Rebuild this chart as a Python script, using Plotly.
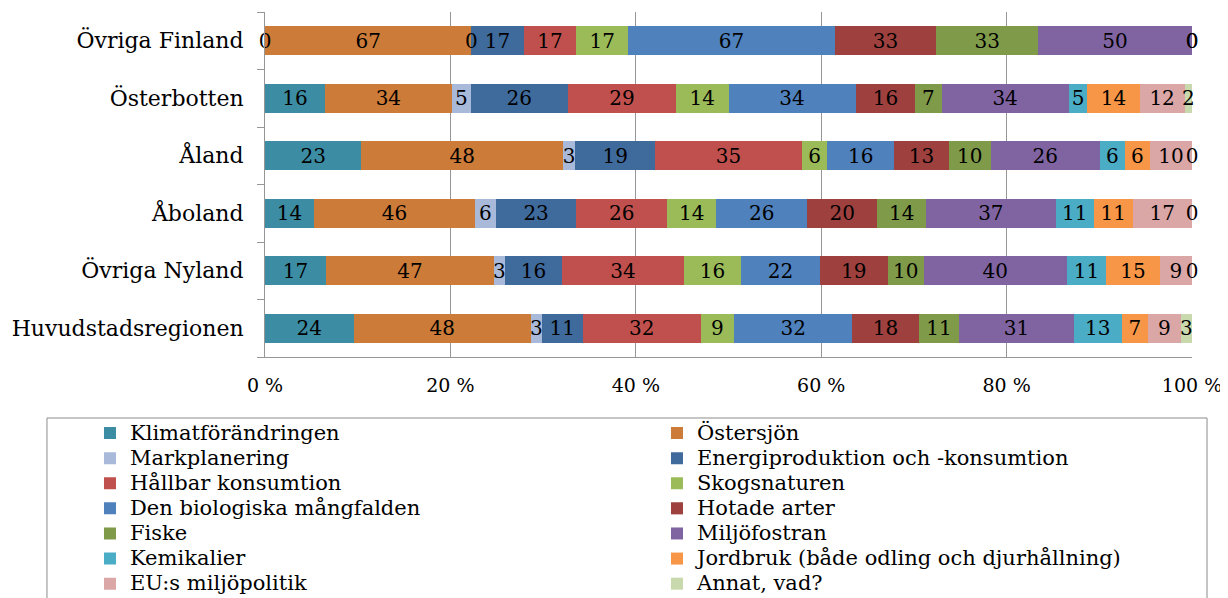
import plotly.graph_objects as go

regions = ["Huvudstadsregionen", "Övriga Nyland", "Åboland", "Åland", "Österbotten", "Övriga Finland"]

topics = [
    "Klimatförändringen", "Östersjön", "Markplanering", "Energiproduktion och -konsumtion",
    "Hållbar konsumtion", "Skogsnaturen", "Den biologiska mångfalden", "Hotade arter",
    "Fiske", "Miljöfostran", "Kemikalier", "Jordbruk (både odling och djurhållning)",
    "EU:s miljöpolitik", "Annat, vad?",
]

colors = [
    "#3C8DA3", "#CD7B38", "#A9B9DA", "#3F6A9C", "#C0504D", "#9BBB59", "#4F81BD",
    "#9E413E", "#7F9A48", "#8064A2", "#4BACC6", "#F79646", "#DBA6A6", "#C9D9AE",
]

# values per topic, order follows `regions`
klimat = [24, 17, 14, 23, 16, 0]
ostersjon = [48, 47, 46, 48, 34, 67]
markplanering = [3, 3, 6, 3, 5, 0]
energi = [11, 16, 23, 19, 26, 17]
hallbar = [32, 34, 26, 35, 29, 17]
skog = [9, 16, 14, 6, 14, 17]
biologisk = [32, 22, 26, 16, 34, 67]
hotade = [18, 19, 20, 13, 16, 33]
fiske = [11, 10, 14, 10, 7, 33]
miljofostran = [31, 40, 37, 26, 34, 50]
kemikalier = [13, 11, 11, 6, 5, 0]
jordbruk = [7, 15, 11, 6, 14, 0]
eu = [9, 9, 17, 10, 12, 0]
annat = [3, 0, 0, 0, 2, 0]

series = [klimat, ostersjon, markplanering, energi, hallbar, skog, biologisk,
          hotade, fiske, miljofostran, kemikalier, jordbruk, eu, annat]

x_ticks = [0, 20, 40, 60, 80, 100]
x_ticktext = ["0 %", "20 %", "40 %", "60 %", "80 %", "100 %"]

FONT = "DejaVu Serif"
EPS = 0.002  # lets a zero-valued (invisible) label bar still carry its "0" label

fig = go.Figure()
# visible coloured bars (legend entries)
for name, vals, col in zip(topics, series, colors):
    fig.add_trace(go.Bar(
        y=regions, x=vals, name='<span style="font-size:21px">%s</span>' % name,
        orientation="h", marker=dict(color=col, line=dict(width=0)),
        textposition="none", hovertext=[name] * len(vals),
        hovertemplate="%{hovertext}: %{x:.1f} %<extra></extra>",
    ))

# transparent overlay bars carrying the value labels (drawn above all bars)
for name, vals in zip(topics, series):
    fig.add_trace(go.Bar(
        y=regions, x=[v if v else EPS for v in vals], xaxis="x2", yaxis="y",
        orientation="h", marker=dict(color="rgba(0,0,0,0)", line=dict(width=0)),
        text=[str(v) for v in vals], texttemplate="%{text}",
        textposition="inside", insidetextanchor="middle", constraintext="none",
        textangle=0, insidetextfont=dict(color="black", size=20, family=FONT),
        cliponaxis=False, showlegend=False, hoverinfo="skip",
    ))

fig.update_layout(
    barmode="stack", barnorm="percent", bargap=0.5,
    width=1220, height=590,
    margin=dict(l=257, r=36, t=4, b=241, autoexpand=False),
    paper_bgcolor="white", plot_bgcolor="white",
    font=dict(family=FONT, size=20, color="black"),
    showlegend=True,
    legend=dict(
        orientation="h", x=-0.1888, xanchor="left", y=-0.1696, yanchor="top",
        entrywidth=522, entrywidthmode="pixels", itemwidth=30,
        borderwidth=0, tracegroupgap=0, bgcolor="rgba(0,0,0,0)",
        font=dict(family=FONT, size=17, color="black"), traceorder="normal",
    ),
    xaxis=dict(
        range=[0, 100], tickmode="array", tickvals=x_ticks, ticktext=x_ticktext,
        showgrid=True, gridcolor="#969696", gridwidth=1,
        showline=True, linecolor="#969696", zeroline=False,
        ticks="", tickfont=dict(size=19, family=FONT), ticklabelstandoff=11,
    ),
    xaxis2=dict(range=[0, 100], overlaying="x", visible=False, fixedrange=True),
    yaxis=dict(
        showline=True, linecolor="#969696", ticks="outside", tickson="boundaries",
        ticklen=7, tickcolor="#969696", tickfont=dict(size=22, family=FONT),
        ticklabelstandoff=16, showgrid=False,
    ),
    shapes=[dict(
        type="rect", xref="paper", yref="paper",
        x0=-0.2352, x1=1.0162, y0=-0.1768, y1=-0.8,
        line=dict(color="#8c8c8c", width=1), fillcolor="rgba(0,0,0,0)", layer="below",
    )],
)

fig.write_html("out.html")
